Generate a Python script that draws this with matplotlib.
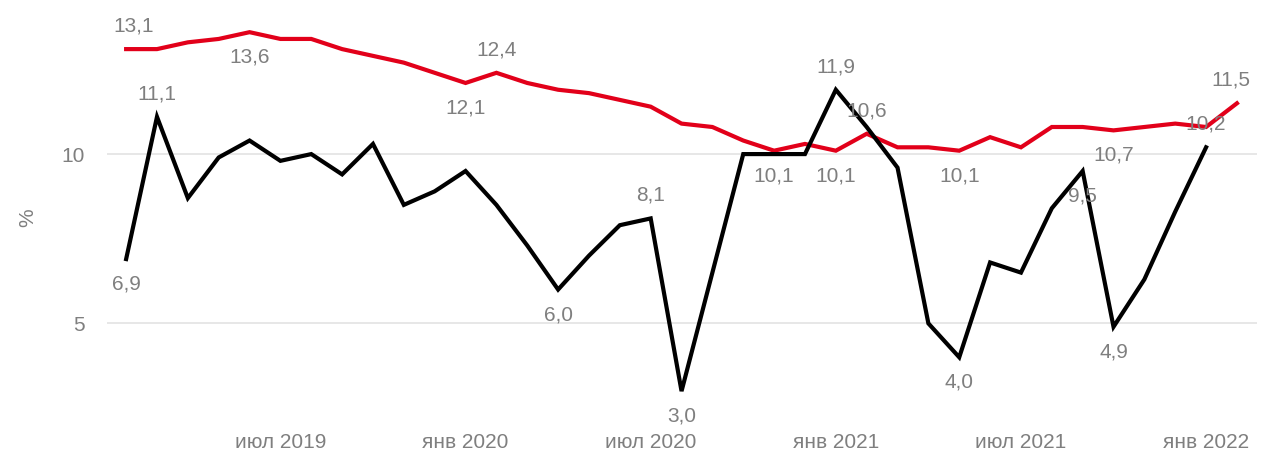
import matplotlib
matplotlib.use("Agg")
import matplotlib.pyplot as plt

plt.rcParams['font.family'] = ['Liberation Sans', 'DejaVu Sans']

# Months Feb 2019 .. Feb 2022
month_abbr = ['янв', 'фев', 'мар', 'апр', 'май', 'июн', 'июл', 'авг', 'сен', 'окт', 'ноя', 'дек']
years = [2019, 2020, 2021, 2022]
months = [f"{m} {y}" for y in years for m in month_abbr][1:38]

red_values = [13.1, 13.1, 13.3, 13.4, 13.6, 13.4, 13.4, 13.1, 12.9, 12.7,
              12.4, 12.1, 12.4, 12.1, 11.9, 11.8, 11.6, 11.4, 10.9, 10.8,
              10.4, 10.1, 10.3, 10.1, 10.6, 10.2, 10.2, 10.1, 10.5, 10.2,
              10.8, 10.8, 10.7, 10.8, 10.9, 10.8, 11.5]
black_values = [6.9, 11.1, 8.7, 9.9, 10.4, 9.8, 10.0, 9.4, 10.3, 8.5,
                8.9, 9.5, 8.5, 7.3, 6.0, 7.0, 7.9, 8.1, 3.0, 6.5,
                10.0, 10.0, 10.0, 11.9, 10.8, 9.6, 5.0, 4.0, 6.8, 6.5,
                8.4, 9.5, 4.9, 6.3, 8.3, 10.2]

# labelled points: index -> placement ('a' above, 'b' below)
red_labels = {0: 'a', 4: 'b', 11: 'b', 12: 'a', 21: 'b', 23: 'b', 24: 'a',
              27: 'b', 32: 'b', 36: 'a'}
black_labels = {0: 'b', 1: 'a', 14: 'b', 17: 'a', 18: 'b', 23: 'a', 27: 'b',
                31: 'b', 32: 'b', 35: 'a'}
# small horizontal nudges for a few labels (pixels)
red_nudge = {0: 7, 36: -6}

tick_months = ['июл 2019', 'янв 2020', 'июл 2020', 'янв 2021', 'июл 2021', 'янв 2022']

RED = '#E2001A'
GRAY = '#7F7F7F'
FS = 15

fig = plt.figure(figsize=(12.78, 4.53), dpi=100)
ax = fig.add_axes([107 / 1278, 28 / 453, 1150 / 1278, 425 / 453])

x_red = list(range(len(red_values)))
x_black = list(range(len(black_values)))
ax.plot(x_red, red_values, color=RED, lw=3.0, solid_joinstyle='miter', zorder=3)
ax.plot(x_black, black_values, color='black', lw=3.0, solid_joinstyle='miter', zorder=3)


def fmt(v):
    return f"{v:.1f}".replace('.', ',')


for series, labels, nudge in ((red_values, red_labels, red_nudge),
                              (black_values, black_labels, {})):
    for i, pos in labels.items():
        dy = 23 if pos == 'a' else -25
        ax.annotate(fmt(series[i]), (i, series[i]), xytext=(nudge.get(i, 0), dy),
                    textcoords='offset pixels', ha='center', va='center',
                    color=GRAY, fontsize=FS, zorder=4)

ax.set_xlim(-0.62, len(red_values) - 1 + 0.65)
ax.set_ylim(2.0, 14.55)
ax.set_yticks([5, 10])
ax.set_yticklabels(['5', '10'])
ticks = [months.index(m) for m in tick_months]
ax.set_xticks(ticks)
ax.set_xticklabels(tick_months)
ax.tick_params(axis='both', length=0, colors=GRAY, labelsize=FS)
ax.tick_params(axis='y', pad=16)
ax.tick_params(axis='x', pad=6)
ax.grid(axis='y', color='#E5E5E5', lw=1.3, zorder=0)
for s in ax.spines.values():
    s.set_visible(False)

fig.text(28 / 1278, 1 - 218 / 453, '%', rotation=90, color=GRAY, fontsize=FS,
         ha='center', va='center')

fig.savefig('out.png', dpi=100)
